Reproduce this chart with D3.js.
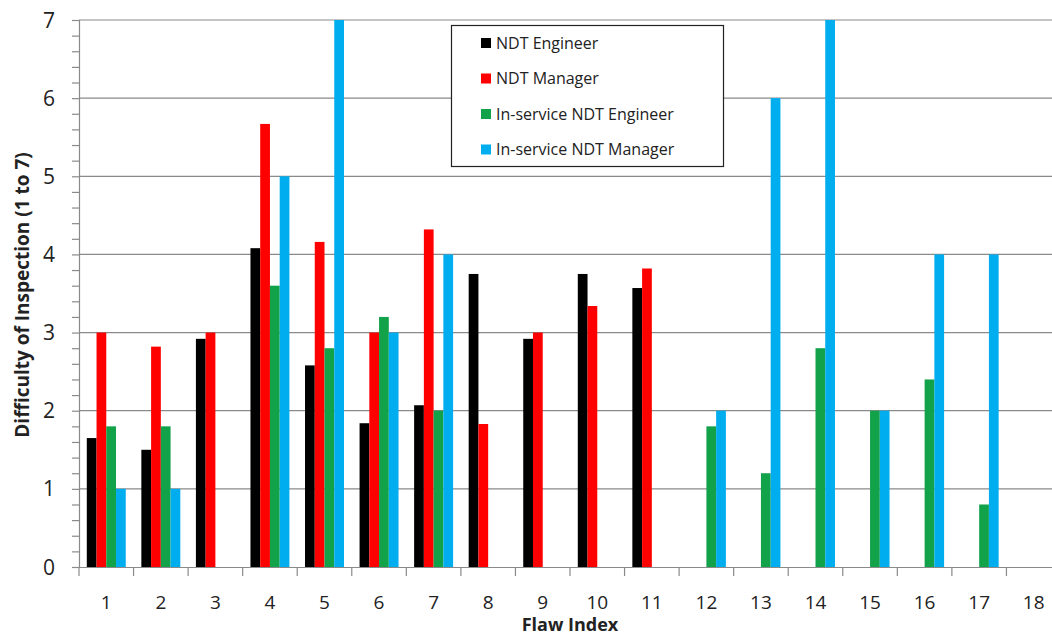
<!DOCTYPE html>
<html><head><meta charset="utf-8">
<script src="https://cdn.jsdelivr.net/npm/d3@7"></script>
<style>body{margin:0;background:#fff}svg{display:block}text{font-family:"Open Sans",sans-serif}</style>
</head><body><svg id="c" width="1052" height="641"></svg>
<script>
const categories = ["1","2","3","4","5","6","7","8","9","10","11","12","13","14","15","16","17","18"];
const seriesNames = ["NDT Engineer","NDT Manager","In-service NDT Engineer","In-service NDT Manager"];
const ndtEngineer = [1.65,1.50,2.92,4.08,2.58,1.84,2.07,3.75,2.92,3.75,3.57,null,null,null,null,null,null,null];
const ndtManager = [3.0,2.82,3.0,5.67,4.16,3.0,4.32,1.83,3.0,3.34,3.82,null,null,null,null,null,null,null];
const inServiceEngineer = [1.8,1.8,null,3.6,2.8,3.2,2.0,null,null,null,null,1.8,1.2,2.8,2.0,2.4,0.8,null];
const inServiceManager = [1.0,1.0,null,5.0,7.0,3.0,4.0,null,null,null,null,2.0,6.0,7.0,2.0,4.0,4.0,null];
const yTicks = [0,1,2,3,4,5,6,7];
const colors = ["#000000","#ff0000","#12a24a","#00aeef"];
const allSeries = [ndtEngineer, ndtManager, inServiceEngineer, inServiceManager];

const svg = d3.select("#c");
const mLeft = 79, mRight = 1061, mTop = 20, mBottom = 567;
const x = d3.scaleBand().domain(categories).range([mLeft, mRight]).paddingInner(0).paddingOuter(0);
const x1 = d3.scaleBand().domain(seriesNames).range([0, x.bandwidth()]).paddingInner(0).paddingOuter(0.8);
const y = d3.scaleLinear().domain([0,7]).range([mBottom, mTop]);

// gridlines
svg.append("g").selectAll("line").data(yTicks.filter(d=>d>0)).join("line")
  .attr("x1", mLeft).attr("x2", 1052).attr("y1", d=>y(d)).attr("y2", d=>y(d))
  .attr("stroke", "#8a8a8a").attr("stroke-width", 1.2);

// bars
const data = [];
categories.forEach((c,i)=>seriesNames.forEach((s,j)=>{ const v = allSeries[j][i]; if (v!=null) data.push({c,s,v,j}); }));
svg.append("g").selectAll("rect").data(data).join("rect")
  .attr("x", d=>x(d.c)+x1(d.s)).attr("width", x1.bandwidth())
  .attr("y", d=>y(d.v)).attr("height", d=>y(0)-y(d.v))
  .attr("fill", d=>colors[d.j]);

// y axis
const yAxis = d3.axisLeft(y).tickValues(d3.range(0,7.01,0.2)).tickSize(7).tickFormat("");
const ga = svg.append("g").attr("transform",`translate(${mLeft},0)`).call(yAxis);
ga.selectAll("path,line").attr("stroke","#8a8a8a").attr("stroke-width",1.2);
svg.append("g").selectAll("text").data(yTicks).join("text")
  .attr("x", 55).attr("y", d=>y(d)).attr("dy","0.36em").attr("text-anchor","end")
  .attr("font-size", 21).attr("fill","#222").text(d=>d);

// x axis
const xAxis = d3.axisBottom(x).tickSize(0).tickFormat("");
const gx = svg.append("g").attr("transform",`translate(0,${mBottom})`).call(xAxis);
gx.select("path").attr("stroke","#8a8a8a").attr("stroke-width",1.2);
svg.append("g").selectAll("line").data(categories).join("line")
  .attr("x1", d=>x(d)).attr("x2", d=>x(d)).attr("y1", mBottom).attr("y2", mBottom+9)
  .attr("stroke","#8a8a8a").attr("stroke-width",1.2);
svg.append("g").selectAll("text").data(categories).join("text")
  .attr("x", d=>x(d)+x.bandwidth()/2).attr("y", 602).attr("dy","0.36em").attr("text-anchor","middle")
  .attr("font-size", 19).attr("fill","#222").text(d=>d);

// axis titles
svg.append("text").attr("x", 570).attr("y", 625).attr("dy","0.36em").attr("text-anchor","middle")
  .attr("font-size", 18).attr("font-weight","bold").attr("fill","#222").text("Flaw Index");
svg.append("text").attr("transform","translate(22,295) rotate(-90)").attr("dy","0.36em").attr("text-anchor","middle")
  .attr("font-size", 19).attr("font-weight","bold").attr("fill","#222").text("Difficulty of Inspection (1 to 7)");

// legend
const lg = svg.append("g");
lg.append("rect").attr("x", 451.5).attr("y", 25.5).attr("width", 272).attr("height", 141)
  .attr("fill","#fff").attr("stroke","#222").attr("stroke-width",1.2);
const rows = lg.selectAll("g.r").data(seriesNames).join("g").attr("class","r")
  .attr("transform",(d,i)=>`translate(481,${43 + i*35.5})`);
rows.append("rect").attr("x",0).attr("y",-5).attr("width",10).attr("height",10).attr("fill",(d,i)=>colors[i]);
rows.append("text").attr("x",15).attr("dy","0.36em").attr("font-size",16).attr("fill","#222").text(d=>d);
</script></body></html>
